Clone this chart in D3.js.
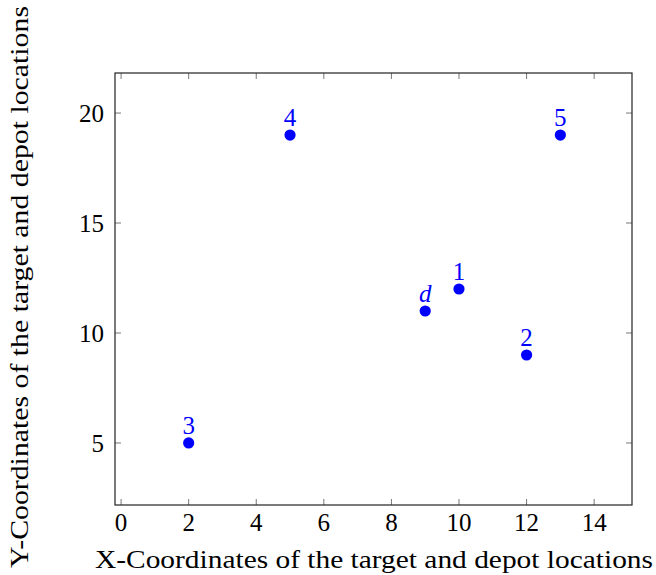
<!DOCTYPE html>
<html>
<head>
<meta charset="utf-8">
<script src="https://cdn.jsdelivr.net/npm/d3@7"></script>
<style>
  body { margin: 0; background: #fff; }
  text { font-family: "Liberation Serif", "Times New Roman", serif; }
</style>
</head>
<body>
<svg id="chart" width="656" height="575"></svg>
<script>
// locations: depot "d" and targets 1..5
const names = ["d", "1", "2", "3", "4", "5"];
const xs = [9, 10, 12, 2, 5, 13];
const ys = [11, 12, 9, 5, 19, 19];
const xTicks = [0, 2, 4, 6, 8, 10, 12, 14];
const yTicks = [5, 10, 15, 20];

const margin = { top: 73, right: 24, bottom: 70, left: 115 },
  width = 656 - margin.left - margin.right,
  height = 575 - margin.top - margin.bottom;

const svg = d3.select("#chart");
const g = svg.append("g").attr("transform", `translate(${margin.left},${margin.top})`);

const x = d3.scaleLinear().domain([-0.18, 15.12]).range([0, width]);
const y = d3.scaleLinear().domain([2.18, 21.82]).range([height, 0]);

const tickLen = 6;

// inner ticks on all four sides
g.selectAll(".xt").data(xTicks).enter().append("line")
  .attr("x1", d => x(d)).attr("x2", d => x(d))
  .attr("y1", height).attr("y2", height - tickLen)
  .attr("stroke", "#777");
g.selectAll(".xtt").data(xTicks).enter().append("line")
  .attr("x1", d => x(d)).attr("x2", d => x(d))
  .attr("y1", 0).attr("y2", tickLen)
  .attr("stroke", "#777");
g.selectAll(".yt").data(yTicks).enter().append("line")
  .attr("x1", 0).attr("x2", tickLen)
  .attr("y1", d => y(d)).attr("y2", d => y(d))
  .attr("stroke", "#777");
g.selectAll(".ytr").data(yTicks).enter().append("line")
  .attr("x1", width).attr("x2", width - tickLen)
  .attr("y1", d => y(d)).attr("y2", d => y(d))
  .attr("stroke", "#777");

g.append("rect")
  .attr("width", width).attr("height", height)
  .attr("fill", "none").attr("stroke", "#222").attr("stroke-width", 1.2);

// tick labels
g.selectAll(".xl").data(xTicks).enter().append("text")
  .attr("x", d => x(d)).attr("y", height + 26)
  .attr("text-anchor", "middle")
  .style("font-size", "25px")
  .text(d => d);
g.selectAll(".yl").data(yTicks).enter().append("text")
  .attr("x", -11).attr("y", d => y(d) + 9)
  .attr("text-anchor", "end")
  .style("font-size", "25px")
  .text(d => d);

// points
const pts = names.map((n, i) => ({ n, x: xs[i], y: ys[i] }));
g.selectAll("circle").data(pts).enter().append("circle")
  .attr("cx", d => x(d.x)).attr("cy", d => y(d.y))
  .attr("r", 5.6).attr("fill", "#0000ff");
g.selectAll(".pl").data(pts).enter().append("text")
  .attr("x", d => x(d.x)).attr("y", d => y(d.y) - 9)
  .attr("text-anchor", "middle")
  .attr("fill", "#0000ff")
  .style("font-size", "25px")
  .style("font-style", d => d.n === "d" ? "italic" : "normal")
  .text(d => d.n);

// axis titles
svg.append("text")
  .attr("x", 374).attr("y", 568)
  .attr("text-anchor", "middle")
  .attr("textLength", 558)
  .attr("lengthAdjust", "spacingAndGlyphs")
  .style("font-size", "25px")
  .text("X-Coordinates of the target and depot locations");
svg.append("text")
  .attr("transform", "translate(28,287) rotate(-90)")
  .attr("text-anchor", "middle")
  .attr("textLength", 562)
  .attr("lengthAdjust", "spacingAndGlyphs")
  .style("font-size", "25px")
  .text("Y-Coordinates of the target and depot locations");
</script>
</body>
</html>
